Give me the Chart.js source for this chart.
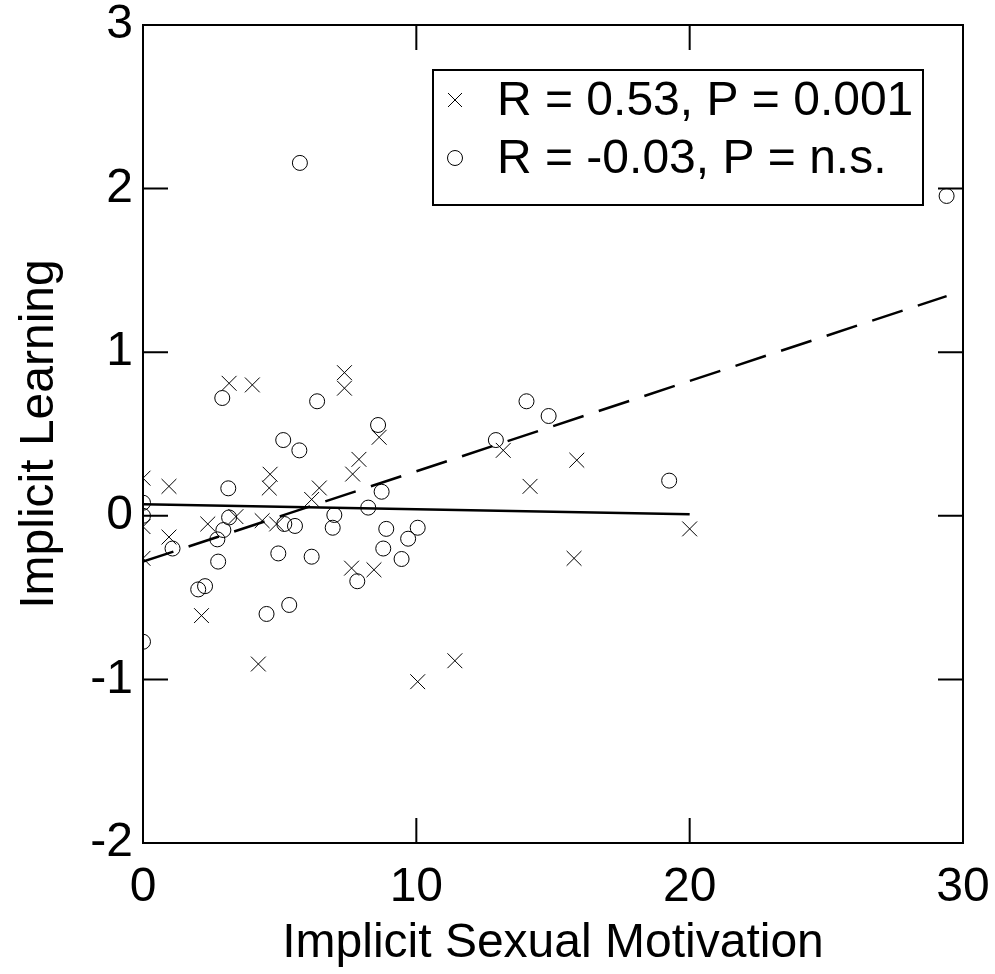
<!DOCTYPE html>
<html><head><meta charset="utf-8">
<script src="https://cdn.jsdelivr.net/npm/chart.js@4/dist/chart.umd.min.js"></script>
<style>html,body{margin:0;padding:0;background:#fff}</style>
</head><body>
<div style="width:995px;height:974px"><canvas id="c" width="995" height="974"></canvas></div>
<script>
const xTicks = [0, 10, 20, 30];
const yTicks = [-2, -1, 0, 1, 2, 3];
const crossPoints = [
  [3.15,0.81],[4.0,0.80],[7.37,0.875],[7.37,0.78],[8.64,0.48],[7.9,0.345],[7.67,0.255],
  [0,0.23],[0.95,0.18],[4.65,0.254],[4.62,0.17],[6.45,0.17],[6.17,0.10],[0,-0.066],
  [0.95,-0.13],[2.37,-0.05],[3.4,-0.005],[4.36,-0.03],[4.89,-0.05],[0,-0.26],[7.63,-0.32],
  [8.45,-0.33],[2.14,-0.61],[4.22,-0.906],[13.18,0.40],[15.87,0.34],[14.16,0.18],[20.0,-0.08],
  [15.77,-0.26],[11.41,-0.886],[10.05,-1.014]
];
const circlePoints = [
  [2.9,0.72],[6.37,0.70],[8.6,0.555],[5.13,0.463],[5.72,0.40],[3.12,0.168],[8.73,0.147],
  [0,0.08],[0,0.0],[8.24,0.05],[7.0,0.005],[3.15,-0.01],[5.17,-0.05],[5.56,-0.062],
  [2.94,-0.087],[6.94,-0.073],[2.72,-0.144],[8.9,-0.08],[1.08,-0.2],[9.7,-0.14],[8.79,-0.2],
  [2.75,-0.28],[4.95,-0.23],[6.17,-0.25],[9.46,-0.264],[7.84,-0.40],[2.02,-0.45],[2.27,-0.43],
  [4.52,-0.60],[5.35,-0.545],[0,-0.77],[14.03,0.70],[14.84,0.61],[12.91,0.463],[19.25,0.215],
  [10.05,-0.073],[5.74,2.157],[29.4,1.955]
];
const dashedFit = [[0,-0.28],[29.4,1.343]];
const solidFit = [[0,0.07],[20,0.01]];
const legendLabels = ['R = 0.53, P = 0.001', 'R = -0.03, P = n.s.'];
const xTitle = 'Implicit Sexual Motivation';
const yTitle = 'Implicit Learning';

const FONT = "'Liberation Sans', Arial, sans-serif";
const toXY = a => a.map(p => ({x: p[0], y: p[1]}));

const framePlugin = {
  id: 'frame',
  afterDatasetsDraw(chart) {
    const {ctx, chartArea: a, scales: {x, y}} = chart;
    ctx.save();
    ctx.strokeStyle = '#000';
    ctx.lineWidth = 2;
    ctx.strokeRect(a.left, a.top, a.right - a.left, a.bottom - a.top);
    const tl = 25;
    ctx.beginPath();
    yTicks.forEach(v => {
      const py = y.getPixelForValue(v);
      ctx.moveTo(a.left, py); ctx.lineTo(a.left + tl, py);
      ctx.moveTo(a.right, py); ctx.lineTo(a.right - tl, py);
    });
    xTicks.forEach(v => {
      const px = x.getPixelForValue(v);
      ctx.moveTo(px, a.bottom); ctx.lineTo(px, a.bottom - tl);
      ctx.moveTo(px, a.top); ctx.lineTo(px, a.top + tl);
    });
    ctx.stroke();
    // legend
    const bx = a.left + 290, by = a.top + 45, bw = 490, bh = 135;
    ctx.fillStyle = '#fff';
    ctx.fillRect(bx, by, bw, bh);
    ctx.lineWidth = 2;
    ctx.strokeRect(bx, by, bw, bh);
    ctx.fillStyle = '#000';
    ctx.font = '48px ' + FONT;
    ctx.textBaseline = 'middle';
    ctx.textAlign = 'left';
    const rows = [by + 30, by + 88];
    const mx = bx + 22;
    ctx.lineWidth = 1;
    ctx.beginPath();
    ctx.moveTo(mx - 7, rows[0] - 7); ctx.lineTo(mx + 7, rows[0] + 7);
    ctx.moveTo(mx + 7, rows[0] - 7); ctx.lineTo(mx - 7, rows[0] + 7);
    ctx.stroke();
    ctx.beginPath();
    ctx.arc(mx, rows[1], 7.5, 0, Math.PI * 2);
    ctx.stroke();
    ctx.fillText(legendLabels[0], bx + 64, rows[0] + 2);
    ctx.fillText(legendLabels[1], bx + 64, rows[1] + 2);
    ctx.restore();
  }
};

new Chart(document.getElementById('c'), {
  type: 'scatter',
  data: {
    datasets: [
      {label: legendLabels[0], data: toXY(crossPoints), pointStyle: 'crossRot', pointRadius: 10.5,
       borderColor: '#000', backgroundColor: '#000', borderWidth: 1, showLine: false},
      {label: legendLabels[1], data: toXY(circlePoints), pointStyle: 'circle', pointRadius: 7.5,
       borderColor: '#000', backgroundColor: 'rgba(0,0,0,0)', borderWidth: 1, showLine: false},
      {type: 'line', data: toXY(dashedFit), borderColor: '#000', borderWidth: 2.5, borderDash: [32, 16],
       pointRadius: 0, fill: false},
      {type: 'line', data: toXY(solidFit), borderColor: '#000', borderWidth: 2.5,
       pointRadius: 0, fill: false}
    ]
  },
  options: {
    responsive: false,
    animation: false,
    layout: {autoPadding: false, padding: {left: 0, top: 25, right: 32, bottom: 0}},
    plugins: {legend: {display: false}, tooltip: {enabled: false}},
    scales: {
      x: {
        type: 'linear', min: 0, max: 30,
        afterBuildTicks: s => { s.ticks = xTicks.map(v => ({value: v})); },
        grid: {display: false, drawTicks: false}, border: {display: false},
        ticks: {padding: 21, color: '#000', font: {family: FONT, size: 48, lineHeight: 1}, maxRotation: 0},
        title: {display: true, text: xTitle, color: '#000', font: {family: FONT, size: 48, lineHeight: 1.2}, padding: {top: 0, bottom: 1}},
        afterFit: s => { s.height = 131; s.paddingLeft = 0; s.paddingRight = 0; }
      },
      y: {
        type: 'linear', min: -2, max: 3,
        afterBuildTicks: s => { s.ticks = yTicks.map(v => ({value: v})); },
        grid: {display: false, drawTicks: false}, border: {display: false},
        ticks: {padding: 10, color: '#000', font: {family: FONT, size: 48, lineHeight: 1}},
        title: {display: true, text: yTitle, color: '#000', font: {family: FONT, size: 48, lineHeight: 1.2}, padding: {top: 11, bottom: 0}},
        afterFit: s => { s.width = 143; s.paddingTop = 0; s.paddingBottom = 0; }
      }
    }
  },
  plugins: [framePlugin]
});
</script>
</body></html>
